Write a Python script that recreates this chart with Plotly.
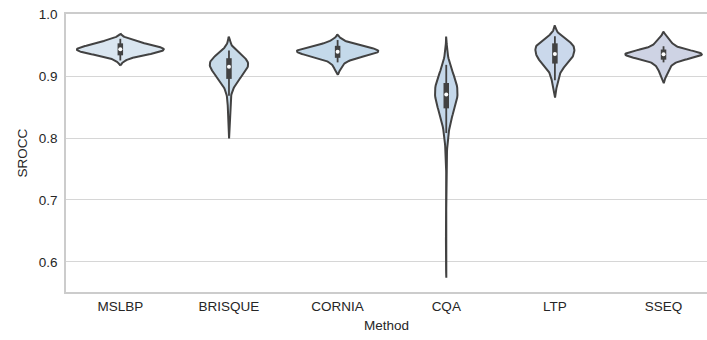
import numpy as np
import plotly.graph_objects as go

# SROCC scores of each method over repeated train/test splits
methods = ["MSLBP", "BRISQUE", "CORNIA", "CQA", "LTP", "SSEQ"]

mslbp = [0.925, 0.929, 0.931, 0.933, 0.934, 0.935, 0.936, 0.936, 0.937, 0.937,
         0.938, 0.939, 0.939, 0.940, 0.941, 0.941, 0.942, 0.942, 0.943, 0.943,
         0.943, 0.944, 0.944, 0.945, 0.946, 0.946, 0.947, 0.947, 0.948, 0.948,
         0.949, 0.950, 0.951, 0.952, 0.953, 0.954, 0.955, 0.957, 0.958, 0.960]
brisque = [0.822, 0.848, 0.868, 0.879, 0.886, 0.890, 0.893, 0.895, 0.897, 0.899,
           0.900, 0.902, 0.904, 0.906, 0.908, 0.910, 0.911, 0.912, 0.913, 0.914,
           0.916, 0.917, 0.918, 0.919, 0.920, 0.921, 0.921, 0.922, 0.923, 0.924,
           0.925, 0.926, 0.927, 0.928, 0.929, 0.930, 0.932, 0.934, 0.937, 0.941]
cornia = [0.911, 0.918, 0.922, 0.925, 0.927, 0.929, 0.930, 0.931, 0.932, 0.933,
          0.934, 0.934, 0.935, 0.936, 0.936, 0.937, 0.938, 0.938, 0.939, 0.939,
          0.939, 0.940, 0.940, 0.941, 0.942, 0.942, 0.943, 0.943, 0.944, 0.944,
          0.945, 0.945, 0.946, 0.947, 0.948, 0.949, 0.950, 0.952, 0.955, 0.958]
cqa = [0.620, 0.790, 0.808, 0.820, 0.828, 0.834, 0.839, 0.843, 0.847, 0.850,
       0.853, 0.856, 0.858, 0.860, 0.862, 0.864, 0.866, 0.867, 0.868, 0.869,
       0.871, 0.873, 0.875, 0.877, 0.879, 0.880, 0.881, 0.882, 0.883, 0.884,
       0.885, 0.886, 0.888, 0.890, 0.893, 0.896, 0.900, 0.905, 0.911, 0.918]
ltp = [0.883, 0.893, 0.900, 0.906, 0.910, 0.914, 0.917, 0.919, 0.921, 0.923,
       0.925, 0.926, 0.927, 0.929, 0.930, 0.931, 0.932, 0.933, 0.934, 0.935,
       0.936, 0.938, 0.940, 0.942, 0.943, 0.944, 0.945, 0.946, 0.947, 0.948,
       0.949, 0.950, 0.951, 0.952, 0.953, 0.954, 0.955, 0.957, 0.960, 0.964]
sseq = [0.900, 0.907, 0.912, 0.916, 0.919, 0.922, 0.924, 0.926, 0.928, 0.930,
        0.931, 0.931, 0.932, 0.932, 0.933, 0.933, 0.934, 0.934, 0.934, 0.935,
        0.935, 0.935, 0.936, 0.936, 0.936, 0.937, 0.937, 0.937, 0.938, 0.938,
        0.939, 0.940, 0.942, 0.944, 0.946, 0.948, 0.951, 0.954, 0.957, 0.960]

scores = [mslbp, brisque, cornia, cqa, ltp, sseq]

fills = ["#dae6f0", "#c8dbe9", "#c4d9ea", "#c5d8ea", "#cad8eb", "#ced3e4"]
edge = "#424242"
ink = "#262626"
font = "Liberation Sans, Arial, sans-serif"

W, H = 707, 340
M = dict(l=66, r=0, t=14, b=48)
y_range = [0.5516, 1.0]
x_range = [-0.5, 5.4]
half_width = 0.4     # widest violin spans 0.8 of a category slot
cut = 2.0            # density support extends this many bandwidths past the data
gridsize = 100


def kde(vals):
    """Gaussian KDE with Scott's bandwidth on a grid that runs `cut` bandwidths past the data."""
    v = np.asarray(vals, dtype=float)
    bw = v.std(ddof=1) * len(v) ** (-1 / 5)
    grid = np.linspace(v.min() - cut * bw, v.max() + cut * bw, gridsize)
    z = (grid[:, None] - v[None, :]) / bw
    dens = np.exp(-0.5 * z ** 2).sum(axis=1) / (len(v) * bw * np.sqrt(2 * np.pi))
    return grid, dens


curves = [kde(v) for v in scores]
peak = max(d.max() for _, d in curves)   # equal-area scaling across all violins

fig = go.Figure()

for i, ((grid, dens), fc) in enumerate(zip(curves, fills)):
    w = dens / peak * half_width
    xs = np.concatenate([i + w, (i - w)[::-1], [i + w[0]]])
    ys = np.concatenate([grid, grid[::-1], [grid[0]]])
    fig.add_trace(go.Scatter(
        x=xs, y=ys, mode="lines", fill="toself", fillcolor=fc,
        line=dict(color=edge, width=2), hoverinfo="skip", showlegend=False,
    ))

# inner box: whisker line, thick quartile bar (with projecting ends) and median dot
plot_h = H - M["t"] - M["b"]
cap = 2.75 * (y_range[1] - y_range[0]) / plot_h
wx, wy, bx, by, mx, my = [], [], [], [], [], []
for i, vals in enumerate(scores):
    v = np.asarray(vals)
    q1, med, q3 = np.percentile(v, [25, 50, 75])
    lim = 1.5 * (q3 - q1)
    lo = v[v >= q1 - lim].min()
    hi = v[v <= q3 + lim].max()
    wx += [i, i, None]
    wy += [lo, hi, None]
    bx += [i, i, None]
    by += [q1 - cap, q3 + cap, None]
    mx.append(i)
    my.append(med)

fig.add_trace(go.Scatter(x=wx, y=wy, mode="lines", line=dict(color=edge, width=1.8),
                         hoverinfo="skip", showlegend=False))
fig.add_trace(go.Scatter(x=bx, y=by, mode="lines", line=dict(color=edge, width=5.5),
                         hoverinfo="skip", showlegend=False))
fig.add_trace(go.Scatter(x=mx, y=my, mode="markers",
                         marker=dict(color="white", size=4, line=dict(width=0)),
                         hoverinfo="skip", showlegend=False))

fig.update_layout(
    width=W, height=H, margin=M,
    paper_bgcolor="white", plot_bgcolor="white",
    font=dict(family=font, size=13.5, color=ink),
    showlegend=False,
)
fig.update_xaxes(
    range=x_range, tickmode="array", tickvals=list(range(len(methods))), ticktext=methods,
    showgrid=False, zeroline=False,
    showline=True, mirror=True, linecolor="#cccccc", linewidth=1.5,
    ticks="outside", ticklen=1, tickcolor="rgba(0,0,0,0)",
    title=dict(text="Method", standoff=8, font=dict(size=13.5, color=ink)),
)
fig.update_yaxes(
    range=y_range, tickmode="array", tickvals=[0.6, 0.7, 0.8, 0.9, 1.0],
    ticktext=["0.6", "0.7", "0.8", "0.9", "1.0"],
    showgrid=True, gridcolor="#d6d6d6", gridwidth=1, zeroline=False,
    showline=True, mirror=False, linecolor="#cccccc", linewidth=1.5,
    ticks="outside", ticklen=4, tickcolor="rgba(0,0,0,0)",
    title=dict(text="SROCC", standoff=8, font=dict(size=13.5, color=ink)),
)

fig.write_html("out.html")
